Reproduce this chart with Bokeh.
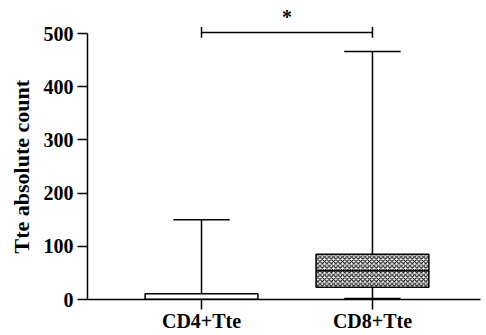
from bokeh.plotting import figure
from bokeh.models import Range1d, FixedTicker, Label, Title
from bokeh.embed import file_html
from bokeh.resources import INLINE

categories = ["CD4+Tte", "CD8+Tte"]
whisker_low = [0, 2]
q1 = [0, 23]
median = [0, 54]
q3 = [11, 85]
whisker_high = [150, 466]
y_ticks = [0, 100, 200, 300, 400, 500]
y_title = "Tte absolute count"
sig_pair = (1, 2)
sig_level = 502
sig_text = "*"

FONT = "Liberation Serif"
xs = [i + 1 for i in range(len(categories))]

p = figure(width=486, height=335, output_backend="svg", toolbar_location=None,
           x_range=Range1d(0.333, 2.632), y_range=Range1d(0, 547),
           min_border_left=87, min_border_right=6, min_border_top=8,
           min_border_bottom=36)
p.outline_line_color = None
p.grid.grid_line_color = None
p.background_fill_color = "white"
p.border_fill_color = "white"

bw = 0.66
cw = 0.33
# whiskers
p.segment(x0=xs, y0=q3, x1=xs, y1=whisker_high, line_color="black", line_width=1.5)
p.segment(x0=xs, y0=whisker_low, x1=xs, y1=q1, line_color="black", line_width=1.5)
p.segment(x0=[x - cw / 2 for x in xs], y0=whisker_high, x1=[x + cw / 2 for x in xs],
          y1=whisker_high, line_color="black", line_width=1.5)
p.segment(x0=[x - cw / 2 for x in xs], y0=whisker_low, x1=[x + cw / 2 for x in xs],
          y1=whisker_low, line_color="black", line_width=1.5)
# boxes
p.vbar(x=[xs[0]], width=bw, bottom=[q1[0]], top=[q3[0]], fill_color="white",
       line_color="black", line_width=1.5)
p.vbar(x=[xs[1]], width=bw, bottom=[q1[1]], top=[q3[1]], fill_color="white",
       hatch_pattern="diagonal_cross", hatch_color="black", hatch_scale=4.5, hatch_weight=1.1,
       line_color="black", line_width=1.5)
p.segment(x0=[x - bw / 2 for x in xs], y0=median, x1=[x + bw / 2 for x in xs], y1=median,
          line_color="black", line_width=1.5)

# significance bracket
a, b = sig_pair
p.segment(x0=[a, a, b], y0=[sig_level, sig_level - 10, sig_level - 10],
          x1=[b, a, b], y1=[sig_level, sig_level + 10, sig_level + 10],
          line_color="black", line_width=1.5)
p.add_layout(Label(x=(a + b) / 2, y=sig_level + 8, text=sig_text, text_font=FONT,
                   text_font_style="bold", text_font_size="20px", text_align="center",
                   text_baseline="bottom", text_color="black"))

# y-axis title, placed so that it is centred on the 0-500 span of the axis
p.add_layout(Title(text=y_title, align="left", offset=46, text_font=FONT,
                   text_font_style="bold", text_font_size="22px", text_color="black",
                   standoff=13), "left")

# axes
p.yaxis.bounds = (0, 500)
p.yaxis.ticker = FixedTicker(ticks=y_ticks)
p.xaxis.ticker = FixedTicker(ticks=xs)
p.xaxis.major_label_overrides = {x: c for x, c in zip(xs, categories)}
for ax in (p.xaxis[0], p.yaxis[0]):
    ax.axis_line_width = 1.5
    ax.axis_line_color = "black"
    ax.major_tick_line_width = 1.5
    ax.major_tick_line_color = "black"
    ax.major_tick_out = 10
    ax.major_tick_in = 0
    ax.minor_tick_line_color = None
    ax.major_label_text_font = FONT
    ax.major_label_text_font_style = "bold"
    ax.major_label_text_color = "black"
p.yaxis.major_label_text_font_size = "20px"
p.xaxis.major_label_text_font_size = "20px"
p.yaxis.major_label_standoff = 4
p.xaxis.major_label_standoff = 0

open("out.html", "w").write(file_html(p, INLINE))
